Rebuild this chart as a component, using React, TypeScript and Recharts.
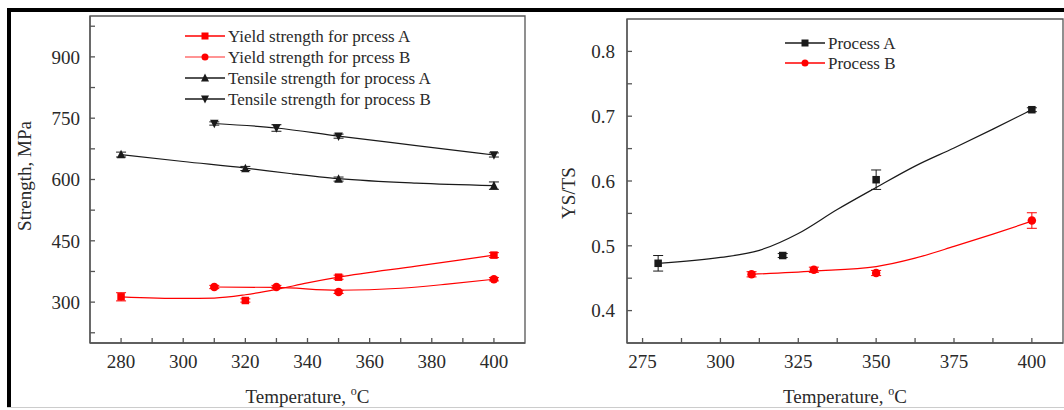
import React from "react";
import {
  ComposedChart,
  Line,
  XAxis,
  YAxis,
  ErrorBar,
  ReferenceArea,
  Legend,
  Label,
} from "recharts";

// ---- left panel: strength vs temperature ----
const yieldATemp = [280, 320, 350, 400];
const yieldA = [313, 304, 361, 415];
const yieldAErr = [10, 4, 5, 6];
const yieldAFitTemp = [280, 300, 310, 320, 330, 340, 350, 375, 400];
const yieldAFit = [313, 309, 310, 318, 331, 347, 361, 388, 415];

const yieldBTemp = [310, 330, 350, 400];
const yieldB = [337, 337, 325, 356];
const yieldBErr = [4, 4, 4, 4];
const yieldBFitTemp = [310, 330, 350, 370, 385, 400];
const yieldBFit = [337, 336, 329, 334, 344, 356];

const tensileATemp = [280, 320, 350, 400];
const tensileA = [661, 627, 601, 585];
const tensileAErr = [6, 5, 5, 9];
const tensileAFitTemp = [280, 300, 320, 335, 350, 375, 400];
const tensileAFit = [661, 644, 628, 614, 602, 591, 585];

const tensileBTemp = [310, 330, 350, 400];
const tensileB = [737, 726, 706, 660];
const tensileBErr = [4, 8, 5, 5];
const tensileBFitTemp = [310, 330, 350, 375, 400];
const tensileBFit = [737, 726, 706, 683, 660];

const strengthTicks = [225, 300, 375, 450, 525, 600, 675, 750, 825, 900, 975];
const strengthLabels = [300, 450, 600, 750, 900];
const tempTicksL = [280, 290, 300, 310, 320, 330, 340, 350, 360, 370, 380, 390, 400];
const tempLabelsL = [280, 300, 320, 340, 360, 380, 400];

const strengthLegend = [
  "Yield strength for prcess A",
  "Yield strength for prcess B",
  "Tensile strength for process A",
  "Tensile strength for process B",
];

// ---- right panel: YS/TS ratio ----
const ratioATemp = [280, 320, 350, 400];
const ratioA = [0.473, 0.485, 0.602, 0.71];
const ratioAErr = [0.012, 0.003, 0.015, 0.003];
const ratioAFitTemp = [280, 300, 312.5, 325, 337.5, 350, 362.5, 375, 387.5, 400];
const ratioAFit = [0.473, 0.482, 0.493, 0.519, 0.556, 0.59, 0.623, 0.651, 0.68, 0.71];

const ratioBTemp = [310, 330, 350, 400];
const ratioB = [0.456, 0.463, 0.458, 0.539];
const ratioBErr = [0.004, 0.004, 0.004, 0.012];
const ratioBFitTemp = [310, 330, 350, 362.5, 375, 387.5, 400];
const ratioBFit = [0.456, 0.461, 0.468, 0.481, 0.499, 0.518, 0.538];

const ratioTicks = [0.4, 0.45, 0.5, 0.55, 0.6, 0.65, 0.7, 0.75, 0.8];
const ratioLabels = [0.4, 0.5, 0.6, 0.7, 0.8];
const tempTicksR = [275, 287.5, 300, 312.5, 325, 337.5, 350, 362.5, 375, 387.5, 400];
const tempLabelsR = [275, 300, 325, 350, 375, 400];

const ratioLegend = ["Process A", "Process B"];

const RED = "#ff0000";
const BLACK = "#1a1a1a";
const AXIS = "#555";
const TEXT = "#2a2a2a";
const FONT = "Liberation Serif, Times New Roman, serif";

const rows = (t: number[], v: number[], e?: number[]) =>
  t.map((x, i) => ({ t: x, v: v[i], err: e ? e[i] : 0 }));

type Shape = "square" | "circle" | "up" | "down";

function marker(shape: Shape, color: string, cx: number, cy: number, s: number, key?: string) {
  const h = s / 2;
  if (shape === "square")
    return <rect key={key} x={cx - h} y={cy - h} width={s} height={s} fill={color} />;
  if (shape === "circle") return <circle key={key} cx={cx} cy={cy} r={h} fill={color} />;
  if (shape === "up")
    return (
      <polygon
        key={key}
        points={`${cx},${cy - h - 1} ${cx - h - 0.5},${cy + h} ${cx + h + 0.5},${cy + h}`}
        fill={color}
      />
    );
  return (
    <polygon
      key={key}
      points={`${cx},${cy + h + 1} ${cx - h - 0.5},${cy - h} ${cx + h + 0.5},${cy - h}`}
      fill={color}
    />
  );
}

const dotFn = (shape: Shape, color: string, s: number) => (p: any) =>
  p.cx == null ? <g key={`n${p.index}`} /> : marker(shape, color, p.cx, p.cy, s, `d${p.index}`);

// tick labels drawn by hand so they keep the serif face
const xTick = (labels: number[]) => (p: any) => {
  const v = p.payload.value;
  return (
    <text x={p.x} y={p.y} dy="0.71em" textAnchor="middle" fill={TEXT} fontSize={19} fontFamily={FONT}>
      {labels.includes(v) ? String(v) : ""}
    </text>
  );
};

const yTick = (labels: number[]) => (p: any) => {
  const v = p.payload.value;
  return (
    <text x={p.x} y={p.y} dy="0.355em" textAnchor="end" fill={TEXT} fontSize={19} fontFamily={FONT}>
      {labels.includes(v) ? String(v) : ""}
    </text>
  );
};

function AxisTitleX({ viewBox }: any) {
  const cx = viewBox.x + viewBox.width / 2;
  return (
    <text x={cx} y={403} textAnchor="middle" fill={TEXT} fontSize={19} fontFamily={FONT}>
      Temperature,{" "}
      <tspan fontSize={12} dy={-8}>o</tspan>
      <tspan dy={8}>C</tspan>
    </text>
  );
}

const axisTitleY = (text: string, x: number, y: number) => () =>
  (
    <text
      x={x}
      y={y}
      transform={`rotate(-90, ${x}, ${y})`}
      textAnchor="middle"
      dominantBaseline="central"
      fill={TEXT}
      fontSize={19}
      fontFamily={FONT}
    >
      {text}
    </text>
  );

function LegendBox({
  items,
  shapes,
  colors,
  lineColors,
  rowGap,
  sampleW,
}: {
  items: string[];
  shapes: Shape[];
  colors: string[];
  lineColors: string[];
  rowGap: number;
  sampleW: number;
}) {
  return (
    <svg width={280} height={items.length * rowGap + 6} style={{ display: "block" }}>
      {items.map((name, i) => {
        const y = 10 + i * rowGap;
        return (
          <g key={name}>
            <line x1={2} x2={2 + sampleW} y1={y} y2={y} stroke={lineColors[i]} strokeWidth={1.3} />
            {marker(shapes[i], colors[i], 2 + sampleW / 2, y, 7)}
            <text
              x={sampleW + 5}
              y={y}
              dominantBaseline="central"
              fill={TEXT}
              fontSize={17}
              fontFamily={FONT}
            >
              {name}
            </text>
          </g>
        );
      })}
    </svg>
  );
}

function StrengthChart() {
  return (
    <ComposedChart width={540} height={410} margin={{ top: 16, right: 15, bottom: 17, left: 30 }}>
      <XAxis
        dataKey="t"
        type="number"
        domain={[270, 410]}
        ticks={tempTicksL}
        interval={0}
        tickSize={-5}
        tickMargin={17}
        height={50}
        allowDataOverflow
        stroke={AXIS}
        strokeWidth={1.3}
        tick={xTick(tempLabelsL)}
      >
        <Label content={<AxisTitleX />} />
      </XAxis>
      <YAxis
        type="number"
        domain={[200, 1000]}
        ticks={strengthTicks}
        interval={0}
        tickSize={-5}
        tickMargin={15}
        width={60}
        allowDataOverflow
        stroke={AXIS}
        strokeWidth={1.3}
        tick={yTick(strengthLabels)}
      >
        <Label content={axisTitleY("Strength, MPa", 24, 176)} />
      </YAxis>
      <ReferenceArea x1={270} x2={410} y1={200} y2={1000} fill="none" stroke={AXIS} strokeWidth={1.3} />

      <Line data={rows(yieldAFitTemp, yieldAFit)} dataKey="v" type="monotone" stroke={RED} strokeWidth={1.2} dot={false} isAnimationActive={false} />
      <Line data={rows(yieldBFitTemp, yieldBFit)} dataKey="v" type="monotone" stroke={RED} strokeWidth={1.2} dot={false} isAnimationActive={false} />
      <Line data={rows(tensileAFitTemp, tensileAFit)} dataKey="v" type="monotone" stroke={BLACK} strokeWidth={1.2} dot={false} isAnimationActive={false} />
      <Line data={rows(tensileBFitTemp, tensileBFit)} dataKey="v" type="monotone" stroke={BLACK} strokeWidth={1.2} dot={false} isAnimationActive={false} />

      <Line data={rows(yieldATemp, yieldA, yieldAErr)} dataKey="v" stroke="none" dot={dotFn("square", RED, 7.5)} activeDot={false} isAnimationActive={false}>
        <ErrorBar dataKey="err" width={5} stroke={RED} strokeWidth={1} direction="y" />
      </Line>
      <Line data={rows(yieldBTemp, yieldB, yieldBErr)} dataKey="v" stroke="none" dot={dotFn("circle", RED, 8.5)} activeDot={false} isAnimationActive={false}>
        <ErrorBar dataKey="err" width={5} stroke={RED} strokeWidth={1} direction="y" />
      </Line>
      <Line data={rows(tensileATemp, tensileA, tensileAErr)} dataKey="v" stroke="none" dot={dotFn("up", BLACK, 7.5)} activeDot={false} isAnimationActive={false}>
        <ErrorBar dataKey="err" width={5} stroke={BLACK} strokeWidth={1} direction="y" />
      </Line>
      <Line data={rows(tensileBTemp, tensileB, tensileBErr)} dataKey="v" stroke="none" dot={dotFn("down", BLACK, 7.5)} activeDot={false} isAnimationActive={false}>
        <ErrorBar dataKey="err" width={5} stroke={BLACK} strokeWidth={1} direction="y" />
      </Line>

      <Legend
        layout="vertical"
        align="center"
        verticalAlign="middle"
        wrapperStyle={{ left: 183, top: 26, width: 280 }}
        content={() => (
          <LegendBox
            items={strengthLegend}
            shapes={["square", "circle", "up", "down"]}
            colors={[RED, RED, BLACK, BLACK]}
            lineColors={[RED, "#ff7070", BLACK, BLACK]}
            rowGap={21}
            sampleW={40}
          />
        )}
      />
    </ComposedChart>
  );
}

function RatioChart() {
  return (
    <ComposedChart width={524} height={410} margin={{ top: 19, right: 1, bottom: 17, left: 27 }}>
      <XAxis
        dataKey="t"
        type="number"
        domain={[270, 410]}
        ticks={tempTicksR}
        interval={0}
        tickSize={-5}
        tickMargin={17}
        height={50}
        allowDataOverflow
        stroke={AXIS}
        strokeWidth={1.3}
        tick={xTick(tempLabelsR)}
      >
        <Label content={<AxisTitleX />} />
      </XAxis>
      <YAxis
        type="number"
        domain={[0.35, 0.85]}
        ticks={ratioTicks}
        interval={0}
        tickSize={-5}
        tickMargin={17}
        width={60}
        allowDataOverflow
        stroke={AXIS}
        strokeWidth={1.3}
        tick={yTick(ratioLabels)}
      >
        <Label content={axisTitleY("YS/TS", 28, 193)} />
      </YAxis>
      <ReferenceArea x1={270} x2={410} y1={0.35} y2={0.85} fill="none" stroke={AXIS} strokeWidth={1.3} />

      <Line data={rows(ratioAFitTemp, ratioAFit)} dataKey="v" type="monotone" stroke={BLACK} strokeWidth={1.2} dot={false} isAnimationActive={false} />
      <Line data={rows(ratioBFitTemp, ratioBFit)} dataKey="v" type="monotone" stroke={RED} strokeWidth={1.2} dot={false} isAnimationActive={false} />

      <Line data={rows(ratioATemp, ratioA, ratioAErr)} dataKey="v" stroke="none" dot={dotFn("square", BLACK, 7.5)} activeDot={false} isAnimationActive={false}>
        <ErrorBar dataKey="err" width={5} stroke={BLACK} strokeWidth={1} direction="y" />
      </Line>
      <Line data={rows(ratioBTemp, ratioB, ratioBErr)} dataKey="v" stroke="none" dot={dotFn("circle", RED, 8.5)} activeDot={false} isAnimationActive={false}>
        <ErrorBar dataKey="err" width={5} stroke={RED} strokeWidth={1} direction="y" />
      </Line>

      <Legend
        layout="vertical"
        align="center"
        verticalAlign="middle"
        wrapperStyle={{ left: 243, top: 33, width: 280 }}
        content={() => (
          <LegendBox
            items={ratioLegend}
            shapes={["square", "circle"]}
            colors={[BLACK, RED]}
            lineColors={[BLACK, RED]}
            rowGap={20}
            sampleW={40}
          />
        )}
      />
    </ComposedChart>
  );
}

export default function App() {
  return (
    <div
      style={{
        position: "fixed",
        left: 0,
        top: 0,
        width: 1064,
        height: 410,
        background: "#fff",
        overflow: "hidden",
        fontFamily: FONT,
      }}
    >
      <div
        style={{
          position: "absolute",
          left: 7,
          top: 8,
          width: 1064,
          height: 400,
          boxSizing: "border-box",
          borderTop: "4px solid #000",
          borderLeft: "4px solid #000",
        }}
      />
      <div style={{ position: "absolute", left: 7, top: 407, width: 1064, height: 1, background: "#ccc" }} />
      <div style={{ position: "absolute", left: 0, top: 0 }}>
        <StrengthChart />
      </div>
      <div style={{ position: "absolute", left: 540, top: 0 }}>
        <RatioChart />
      </div>
    </div>
  );
}
